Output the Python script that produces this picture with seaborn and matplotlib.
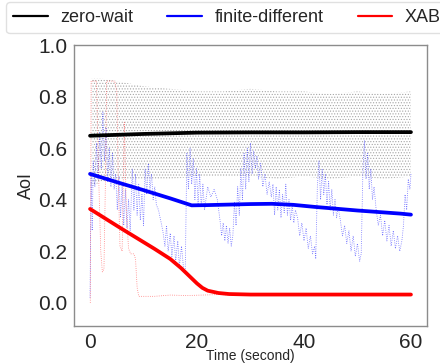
import numpy as np
import pandas as pd
import matplotlib
matplotlib.use('Agg')
import matplotlib.pyplot as plt
import seaborn as sns

# ---- smoothed AoI curves ----
zw_t = [0, 10, 20, 30, 40, 50, 60]
zw_avg = [0.648, 0.655, 0.660, 0.661, 0.661, 0.662, 0.662]

fd_t = [0, 5, 10, 15, 19, 22, 26, 30, 34, 38, 42, 46, 50, 54, 58, 60]
fd_avg = [0.50, 0.468, 0.437, 0.405, 0.378, 0.379, 0.381, 0.383, 0.384, 0.380,
          0.372, 0.365, 0.358, 0.352, 0.346, 0.342]

xab_t = [0, 3, 6, 9, 12, 15, 17, 18, 19, 20, 21, 22, 24, 26, 30, 40, 50, 60]
xab_avg = [0.364, 0.325, 0.286, 0.248, 0.21, 0.17, 0.135, 0.115, 0.095, 0.075,
           0.058, 0.047, 0.038, 0.034, 0.032, 0.032, 0.032, 0.032]

# ---- raw zero-wait: envelope of the fast sawtooth ----
zw_raw_t = [0.3, 2, 5, 10, 15, 20, 25, 30, 35, 40, 45, 50, 55, 60]
zw_raw_hi = [0.87, 0.87, 0.86, 0.84, 0.83, 0.82, 0.82, 0.83, 0.82, 0.82, 0.81, 0.82, 0.81, 0.82]
zw_raw_lo = [0.45, 0.47, 0.48, 0.48, 0.48, 0.49, 0.49, 0.49, 0.48, 0.49, 0.48, 0.49, 0.48, 0.49]

# ---- raw finite-different ----
fd_raw = [
    (0.0, 0.02), (0.2, 0.50), (0.4, 0.28), (0.6, 0.55),
    (0.9, 0.45), (1.2, 0.62), (1.5, 0.48), (1.8, 0.66), (2.1, 0.52), (2.4, 0.74), (2.7, 0.55),
    (3.0, 0.68), (3.3, 0.47), (3.6, 0.60), (3.9, 0.45), (4.2, 0.58), (4.5, 0.44), (4.8, 0.50),
    (5.1, 0.36), (5.4, 0.49), (5.7, 0.33), (6.0, 0.46), (6.3, 0.30), (6.6, 0.44), (6.9, 0.29),
    (7.2, 0.40), (7.5, 0.28),
    (7.9, 0.52), (8.2, 0.36), (8.5, 0.50), (8.8, 0.34), (9.1, 0.46), (9.4, 0.32), (9.7, 0.42), (10.0, 0.30),
    (10.3, 0.52), (10.6, 0.42), (10.9, 0.54), (11.2, 0.44), (11.5, 0.50), (11.8, 0.40), (12.1, 0.45), (12.4, 0.38),
    (12.8, 0.36), (13.3, 0.31), (13.6, 0.28), (14.0, 0.22), (14.3, 0.30), (14.6, 0.20), (15.0, 0.27),
    (15.3, 0.18), (15.7, 0.26), (16.0, 0.16), (16.4, 0.24), (16.7, 0.14), (17.1, 0.22), (17.5, 0.13), (17.8, 0.12),
    (18.1, 0.58), (18.4, 0.44), (18.7, 0.60), (19.0, 0.46), (19.3, 0.56), (19.6, 0.40), (19.9, 0.52),
    (20.2, 0.38), (20.5, 0.50), (20.8, 0.37), (21.1, 0.46), (21.4, 0.36),
    (22.0, 0.45), (22.6, 0.41), (23.2, 0.44), (23.8, 0.40),
    (24.3, 0.32), (24.6, 0.26), (24.9, 0.31), (25.2, 0.24), (25.5, 0.30), (25.8, 0.23), (26.1, 0.29),
    (26.4, 0.22), (26.7, 0.26),
    (27.0, 0.39), (27.3, 0.30), (27.6, 0.45), (27.9, 0.34), (28.2, 0.52), (28.5, 0.40), (28.8, 0.58),
    (29.1, 0.44), (29.4, 0.60), (29.7, 0.47), (30.0, 0.62), (30.3, 0.50), (30.6, 0.59), (30.9, 0.52), (31.2, 0.57),
    (31.5, 0.48), (31.9, 0.54), (32.3, 0.45), (32.7, 0.50), (33.1, 0.42), (33.5, 0.47), (33.9, 0.41),
    (34.2, 0.46), (34.5, 0.34), (34.8, 0.45), (35.1, 0.36), (35.4, 0.44), (35.7, 0.33), (36.0, 0.42),
    (36.3, 0.35), (36.6, 0.46), (36.9, 0.34), (37.2, 0.40), (37.5, 0.32), (37.8, 0.38), (38.1, 0.31), (38.4, 0.36),
    (38.8, 0.33), (39.2, 0.26), (39.6, 0.31), (40.0, 0.24), (40.4, 0.29), (40.8, 0.21), (41.2, 0.26),
    (41.6, 0.19), (42.0, 0.22), (42.2, 0.17),
    (42.5, 0.45), (42.8, 0.55), (43.1, 0.40), (43.4, 0.52), (43.7, 0.42), (44.0, 0.50), (44.3, 0.38),
    (44.6, 0.47), (44.9, 0.36), (45.2, 0.44), (45.5, 0.34), (45.8, 0.40), (46.1, 0.33), (46.4, 0.37),
    (46.8, 0.32), (47.2, 0.26), (47.6, 0.30), (48.0, 0.23), (48.4, 0.28), (48.8, 0.20), (49.2, 0.26),
    (49.6, 0.18), (50.0, 0.23), (50.4, 0.16), (50.7, 0.19),
    (51.0, 0.50), (51.3, 0.63), (51.6, 0.48), (51.9, 0.58), (52.2, 0.44), (52.5, 0.52), (52.8, 0.40), (53.1, 0.45),
    (53.5, 0.36), (53.9, 0.30), (54.3, 0.34), (54.7, 0.26), (55.1, 0.32), (55.5, 0.24), (55.9, 0.30),
    (56.3, 0.22), (56.7, 0.28), (57.1, 0.21), (57.5, 0.26), (57.9, 0.20), (58.3, 0.24),
    (58.6, 0.30), (58.9, 0.42), (59.2, 0.36), (59.5, 0.48), (59.8, 0.44), (60.0, 0.50),
]
fd_raw_t = [p[0] for p in fd_raw]
fd_raw_y = [p[1] for p in fd_raw]

# ---- raw XAB ----
xab_raw_t = [0.05, 0.2, 1.2, 1.6, 2.0, 2.3, 2.6, 2.9, 3.1, 4.6, 5.0, 5.3, 5.6, 6.0, 6.4, 6.8, 7.2,
             7.6, 8.2, 8.5, 8.8, 9.1, 12, 15, 18, 21, 24, 27, 30, 33, 36, 39, 42, 45, 48, 51, 54, 57, 60]
xab_raw_y = [0.0, 0.86, 0.86, 0.5, 0.2, 0.12, 0.13, 0.5, 0.86, 0.86, 0.82, 0.45, 0.22, 0.20, 0.70,
             0.35, 0.21, 0.19, 0.19, 0.17, 0.06, 0.025, 0.025, 0.03, 0.028, 0.03, 0.032, 0.03, 0.033,
             0.031, 0.03, 0.032, 0.03, 0.031, 0.033, 0.03, 0.032, 0.031, 0.03]

series = ['zero-wait', 'finite-different', 'XAB']
colors = ['black', 'blue', 'red']

sns.set_style('white')
plt.rcParams['font.family'] = ['Liberation Sans', 'DejaVu Sans']
plt.rcParams['hatch.linewidth'] = 0.5

fig = plt.figure(figsize=(4.4, 3.64), dpi=100)
ax = fig.add_axes([74/440, 1-326/364, (427-74)/440, (326-45)/364])

# raw traces
ax.fill_between(zw_raw_t, zw_raw_lo, zw_raw_hi, facecolor='none', edgecolor='0.65',
                hatch='......', linewidth=0)
sns.lineplot(x=fd_raw_t, y=fd_raw_y, ax=ax, color='blue', lw=0.6, ls=':', alpha=0.55, sort=False)
sns.lineplot(x=xab_raw_t, y=xab_raw_y, ax=ax, color='red', lw=0.6, ls=':', alpha=0.5, sort=False)

# smoothed curves
handles = []
for name, c, tt, yy in zip(series, colors, [zw_t, fd_t, xab_t], [zw_avg, fd_avg, xab_avg]):
    sns.lineplot(x=tt, y=yy, ax=ax, color=c, lw=2.7, label=name, legend=False)
    handles.append(ax.lines[-1])

ax.set_xlim(-3, 63)
ax.set_ylim(-0.09, 1.0)
ax.set_xticks([0, 20, 40, 60])
ax.set_yticks([0.0, 0.2, 0.4, 0.6, 0.8, 1.0])
ax.tick_params(axis='both', labelsize=15, length=3, color='0.55', pad=2)
for s in ax.spines.values():
    s.set_color('0.55')
    s.set_linewidth(1.0)
ax.set_xlabel('Time (second)', fontsize=10, labelpad=-2)
ax.set_ylabel('AoI', fontsize=13, labelpad=2)

fig.legend(handles=handles, labels=series, loc='upper left', bbox_to_anchor=(6/440, 1-2/364),
           ncol=3, fontsize=13, frameon=True, handlelength=1.9, handletextpad=0.7,
           columnspacing=1.9, borderaxespad=0, fancybox=True, edgecolor='0.85')
for h in fig.legends[0].get_lines():
    h.set_linewidth(1.6)

fig.savefig('out.png', dpi=100)
